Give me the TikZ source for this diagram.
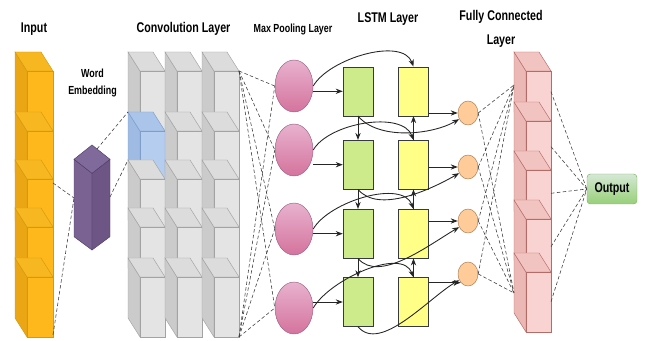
\documentclass[tikz,border=0pt]{standalone}
\usepackage{fontspec}
\newfontfamily\labelfont[FakeStretch=0.76]{Liberation Sans}
\usetikzlibrary{arrows.meta, positioning, shapes.geometric}

% face colours of the stacked blocks
\definecolor{inpfront}{HTML}{FFB81C}
\definecolor{inpside}{HTML}{EBA615}
\definecolor{inptop}{HTML}{F7B720}
\definecolor{inpline}{HTML}{D39A10}
\definecolor{cnvfront}{HTML}{E4E4E4}
\definecolor{cnvside}{HTML}{CBCBCB}
\definecolor{cnvtop}{HTML}{DCDCDC}
\definecolor{cnvline}{HTML}{A3A3A3}
\definecolor{selfront}{HTML}{B5CDEF}
\definecolor{selside}{HTML}{9FBBE4}
\definecolor{seltop}{HTML}{ABC5EA}
\definecolor{selline}{HTML}{7E9DC9}
\definecolor{fclfront}{HTML}{F9D3D1}
\definecolor{fclside}{HTML}{EBB8B5}
\definecolor{fcltop}{HTML}{F2C4C1}
\definecolor{fclline}{HTML}{B66B67}
% embedding prism
\definecolor{embleft}{HTML}{7A6393}
\definecolor{embright}{HTML}{6D5686}
\definecolor{embtop}{HTML}{806A9C}
\definecolor{embline}{HTML}{4F3D66}
% pooling, lstm cells, outputs
\definecolor{pooltop}{HTML}{E8B2CE}
\definecolor{poolbot}{HTML}{D5739D}
\definecolor{poolline}{HTML}{996185}
\definecolor{fwdfill}{HTML}{CDEB8B}
\definecolor{bwdfill}{HTML}{FFFF88}
\definecolor{cellline}{HTML}{36393D}
\definecolor{outcfill}{HTML}{FFCC99}
\definecolor{outcline}{HTML}{A67C52}
\definecolor{restop}{HTML}{D5E8D4}
\definecolor{resbot}{HTML}{97D077}
\definecolor{resline}{HTML}{82B366}

% pick the face colours for the next block
\newcommand{\cubecolours}[1]{%
  \colorlet{cubeside}{#1side}\colorlet{cubetop}{#1top}%
  \colorlet{cubefront}{#1front}\colorlet{cubeline}{#1line}}

% one block: #1 left x, #2 top y, #3 width
\newcommand{\blockcube}[3]{%
  \filldraw[fill=cubeside, draw=cubeline] (#1,#2) -- (#1+12,#2-19) -- (#1+12,#2-79) -- (#1,#2-60) -- cycle;
  \filldraw[fill=cubetop, draw=cubeline] (#1,#2) -- (#1+#3-12,#2) -- (#1+#3,#2-19) -- (#1+12,#2-19) -- cycle;
  \filldraw[fill=cubefront, draw=cubeline] (#1+12,#2-19) rectangle (#1+#3,#2-79);
}

\begin{document}
\begin{tikzpicture}[x=0.03cm, y=0.03cm,
  title/.style={font=\labelfont\bfseries\fontsize{12}{14}\selectfont, inner sep=0, anchor=base},
  pool/.style={ellipse, draw=poolline, top color=pooltop, bottom color=poolbot,
    minimum width=1.14cm, minimum height=1.56cm, inner sep=0},
  fwd/.style={rectangle, draw=cellline, fill=fwdfill, minimum width=0.9cm, minimum height=1.47cm, inner sep=0},
  bwd/.style={fwd, fill=bwdfill},
  outc/.style={ellipse, draw=outcline, fill=outcfill, minimum width=0.6cm, minimum height=0.72cm, inner sep=0},
  result/.style={rectangle, rounded corners=3pt, draw=resline, top color=restop, bottom color=resbot,
    minimum width=1.5cm, minimum height=0.9cm, inner sep=0,
    font=\labelfont\bfseries\fontsize{12}{14}\selectfont},
  flow/.style={-{Stealth[length=6pt,width=4.5pt]}, line width=0.75pt, draw=black!85},
  link/.style={densely dashed, line width=0.5pt, draw=black!75}]

  \useasboundingbox (0,0) rectangle (646,341);

  % Titles
  \node[title] (t-in) at (34,308.7) {Input};
  \node[title] (t-cnv) at (183.5,308.7) {Convolution Layer};
  \node[title, font=\labelfont\bfseries\fontsize{10}{12}\selectfont] (t-pool) at (293,308.7) {Max Pooling Layer};
  \node[title] (t-lstm) at (388,318.3) {LSTM Layer};
  \node[title, anchor=center, align=center, font=\labelfont\bfseries\fontsize{12}{20.7}\selectfont]
    (t-fc) at (501,312.5) {Fully Connected\\Layer};
  \node[title, anchor=center, align=center, font=\labelfont\bfseries\fontsize{10}{14.5}\selectfont]
    (t-emb) at (92.5,258.2) {Word\\Embedding};

  % Input column
  \cubecolours{inp}
  \foreach \yt in {289,229,181,133,83}
    {\blockcube{15}{\yt}{38}}

  % Word embedding prism
  \filldraw[fill=embleft, draw=embline] (74,181.7) -- (92,167.7) -- (92,91) -- (74,104.3) -- cycle;
  \filldraw[fill=embright, draw=embline] (92,167.7) -- (110,181.7) -- (110,104.3) -- (92,91) -- cycle;
  \filldraw[fill=embtop, draw=embline] (92,196) -- (110,181.7) -- (92,167.7) -- (74,181.7) -- cycle;

  % Convolution grid, one block highlighted
  \foreach \yt in {289,229,181,133,83}{
    \foreach \xl in {128,165,202}{
      \cubecolours{cnv}
      \ifnum\xl=128 \ifnum\yt=229 \cubecolours{sel}\fi\fi
      \blockcube{\xl}{\yt}{37}
    }
  }

  % Fully connected column
  \cubecolours{fcl}
  \foreach \yt in {289,239,190,141,88}
    {\blockcube{514}{\yt}{37}}

  % Pooling, LSTM cells and their outputs
  \foreach \i/\ye/\yg/\yc in {1/255/249.7/228, 2/191/176.3/174, 3/112/107.3/120, 4/33/39/67}{
    \node[pool] (e\i) at (294,\ye) {};
    \node[fwd] (g\i) at (358,\yg) {};
    \node[bwd, right=0.75cm of g\i] (y\i) {};
    \node[outc] (c\i) at (468,\yc) {};
  }
  \node[result] (out) at (612,152) {Output};

  % Dashed links
  \coordinate (inp-a) at (53,158);
  \coordinate (inp-b) at (53,6);
  \coordinate (emb-in) at (74,143);
  \draw[link] (inp-a) -- (emb-in);
  \draw[link] (inp-b) -- (emb-in);
  \coordinate (emb-a) at (97,192);
  \coordinate (emb-b) at (110,144);
  \coordinate (win-a) at (128,229);
  \coordinate (win-b) at (128,181);
  \draw[link] (emb-a) -- (win-a);
  \draw[link] (emb-b) -- (win-b);
  \coordinate (cnv-a) at (239,270);
  \coordinate (cnv-b) at (239,4);
  \coordinate (fcl-a) at (514,256);
  \coordinate (fcl-b) at (514,48);
  \foreach \i in {1,...,4}{
    \draw[link] (cnv-a) -- (e\i.west);
    \draw[link] (cnv-b) -- (e\i.west);
    \draw[link] (c\i.east) -- (fcl-a);
    \draw[link] (c\i.east) -- (fcl-b);
  }
  \foreach \i/\y in {1/249.3, 2/194.3, 3/147.7, 4/94.3, 5/39.3}{
    \coordinate (fco-\i) at (551,\y);
    \draw[link] (fco-\i) -- (out.west);
  }

  % LSTM flow
  \foreach \i/\a in {1/west, 2/west, 3/west, 4/south west}{
    \draw[flow] (e\i.east |- g\i.west) -- (g\i.west);
    \draw[flow] (e\i.east) to[out=60, in=110, looseness=0.8] (y\i.north);
    \draw[flow] (g\i.south) to[out=-50, in=-150, looseness=0.8] (c\i.215);
    \draw[flow] (y\i.east |- c\i.\a) -- (c\i.\a);
  }
  \foreach \i/\j in {1/2, 2/3, 3/4}{
    \draw[flow] (g\i.south) -- (g\j.north);
    \draw[flow] (y\j.north) -- (y\i.south);
  }
\end{tikzpicture}
\end{document}
